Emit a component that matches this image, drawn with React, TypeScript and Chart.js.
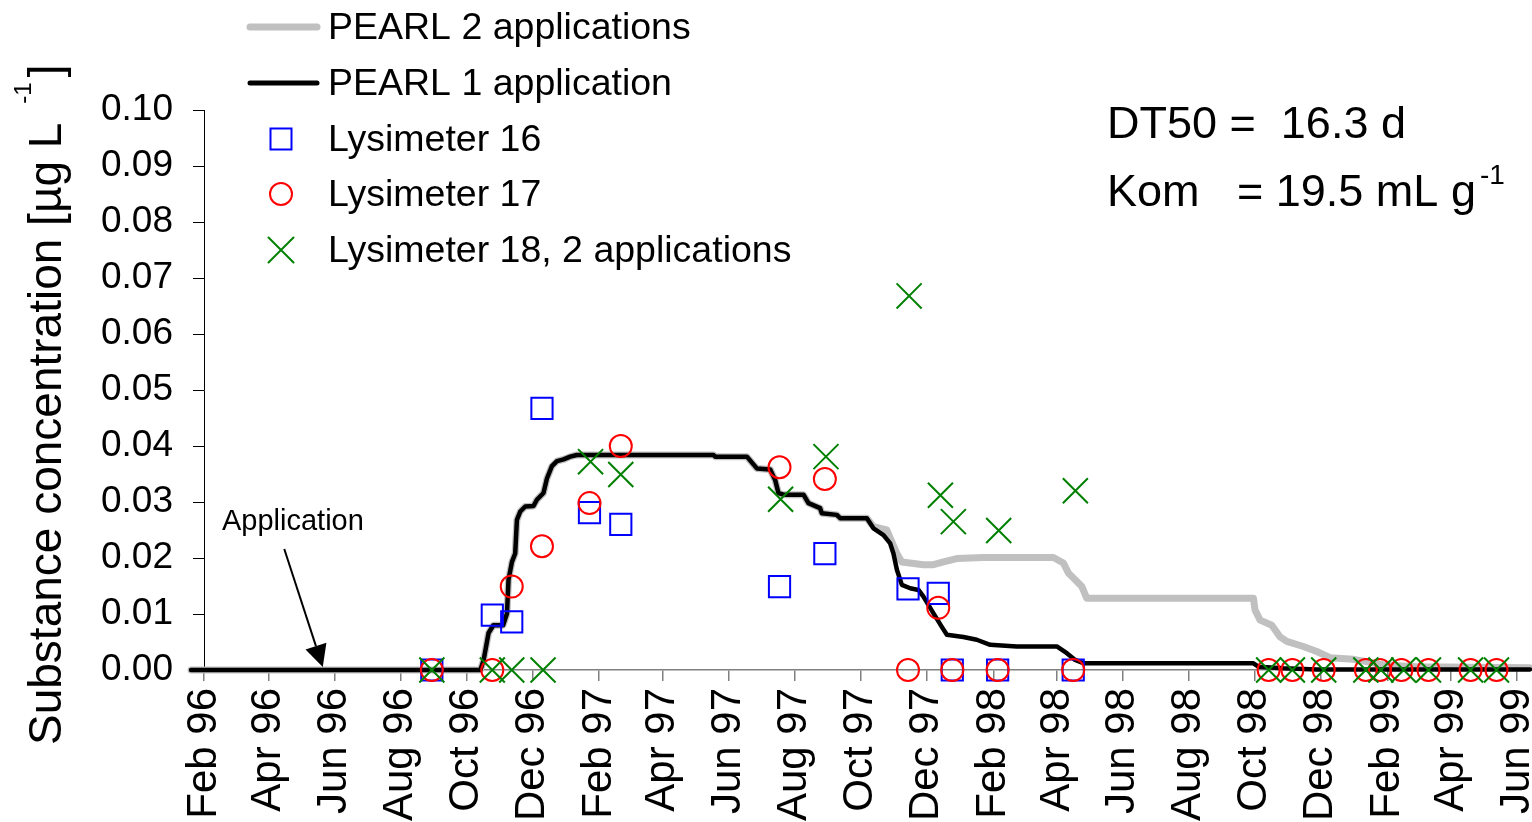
import React, { useEffect, useRef } from "react";
import { Chart, registerables } from "chart.js";

Chart.register(...registerables);

const FONT = '"Liberation Sans", Arial, Helvetica, sans-serif';

// x values: days since 1 Feb 1996
const tickDays = [0, 60, 121, 182, 243, 304, 366, 425, 486, 547, 608, 669, 731, 790, 851, 912, 973, 1034, 1096, 1155, 1216];
const tickLabels = [
  "Feb 96", "Apr 96", "Jun 96", "Aug 96", "Oct 96", "Dec 96",
  "Feb 97", "Apr 97", "Jun 97", "Aug 97", "Oct 97", "Dec 97",
  "Feb 98", "Apr 98", "Jun 98", "Aug 98", "Oct 98", "Dec 98",
  "Feb 99", "Apr 99", "Jun 99",
];
const yTicks = [0, 0.01, 0.02, 0.03, 0.04, 0.05, 0.06, 0.07, 0.08, 0.09, 0.1];

// PEARL 1 application (simulated)
const pearl1Days = [
  -12, 256, 259, 263.5, 268, 277, 280.6, 282, 285.2, 288.2, 289.8, 292.9, 297.5, 305.2, 308.3, 314.4,
  317.6, 322.2, 326.9, 333, 339.2, 345.4, 471.9, 473.4, 502.8, 512, 524.4, 529, 532, 536.7, 555.2,
  559.8, 570.6, 572.2, 586.1, 589.2, 613.9, 620, 629.3, 635.5, 638.5, 641.7, 646.3, 654, 661.7,
  666.3, 675.6, 683.3, 688, 703.3, 715.7, 728.1, 752.8, 789.8, 799.1, 806.8, 814.4, 971.9, 976.5,
  999.6, 1030.6, 1228,
];
const pearl1Values = [
  0, 0, 0.0018, 0.0066, 0.008, 0.008, 0.0101, 0.0161, 0.0193, 0.0208, 0.0268, 0.0283, 0.0292, 0.0293, 0.0304, 0.0316,
  0.0342, 0.0364, 0.0373, 0.0376, 0.0381, 0.0384, 0.0384, 0.0381, 0.0381, 0.036, 0.0358, 0.0339, 0.0316, 0.0313, 0.0313,
  0.0298, 0.0289, 0.028, 0.0277, 0.0271, 0.0271, 0.0253, 0.0241, 0.0226, 0.0208, 0.0179, 0.0152, 0.0146, 0.0143,
  0.0131, 0.0101, 0.0077, 0.0063, 0.0059, 0.0054, 0.0045, 0.0042, 0.0042, 0.003, 0.0018, 0.0012, 0.0012, 0.0006,
  0.0003, 0.0001, 0.0001,
];

// PEARL 2 applications: identical to PEARL 1 until this day, then diverges
const pearl2SplitDay = 614;
const pearl2TailDays = [
  620, 632.4, 641.7, 646.3, 666.3, 675.6, 684.8, 697.2, 721.9, 786.7, 795.9, 800.6, 806.8, 813, 817.6,
  971.9, 973.4, 978.1, 988.9, 996.6, 1002.8, 1018.1, 1030.6, 1042.9, 1064.4, 1076.9, 1092.2, 1123.1, 1228,
];
const pearl2TailValues = [
  0.0256, 0.025, 0.0208, 0.0193, 0.0188, 0.0188, 0.0193, 0.0199, 0.0201, 0.0201, 0.0191, 0.0173, 0.0161, 0.0149, 0.0128,
  0.0128, 0.0107, 0.0089, 0.008, 0.0059, 0.0051, 0.0042, 0.0033, 0.0022, 0.0019, 0.0015, 0.0009, 0.0006, 0.0004,
];

// Lysimeter measurements
const lys16Days = [211, 267, 285, 313, 357, 386, 533, 575, 652, 680, 693, 735, 805];
const lys16Values = [0, 0.0098, 0.0086, 0.0467, 0.0281, 0.026, 0.0149, 0.0208, 0.0145, 0.0137, 0, 0, 0];

const lys17Days = [211, 267, 285, 313, 357, 386, 533, 575, 652, 680, 693, 735, 805, 986, 1008, 1037, 1076, 1089, 1109, 1134, 1173, 1197];
const lys17Values = [0, 0, 0.0149, 0.0221, 0.0298, 0.04, 0.0362, 0.0341, 0, 0.0111, 0, 0, 0, 0, 0, 0, 0, 0, 0, 0, 0, 0];

const lys18Days = [211, 267, 285, 314, 358, 386, 534, 576, 653, 682, 694, 736, 807, 986, 1008, 1037, 1076, 1090, 1111, 1134, 1173, 1197];
const lys18Values = [0, 0, 0, 0, 0.0372, 0.0349, 0.0305, 0.0381, 0.0668, 0.0312, 0.0265, 0.0249, 0.032, 0, 0, 0, 0, 0, 0, 0, 0, 0];

const applicationDay = 110;

const seriesNames = [
  "PEARL 2 applications",
  "PEARL 1 application",
  "Lysimeter 16",
  "Lysimeter 17",
  "Lysimeter 18, 2 applications",
];

const GRAY = "#c0c0c0";
const BLUE = "#0000ff";
const RED = "#ff0000";
const GREEN = "#008000";

const toPoints = (xs: number[], ys: number[]) => xs.map((x, i) => ({ x, y: ys[i] }));

function drawMarker(ctx: CanvasRenderingContext2D, kind: string, cx: number, cy: number) {
  ctx.save();
  ctx.lineWidth = 2;
  if (kind === "square") {
    ctx.strokeStyle = BLUE;
    ctx.strokeRect(cx - 10.5, cy - 10.5, 21, 21);
  } else if (kind === "circle") {
    ctx.strokeStyle = RED;
    ctx.beginPath();
    ctx.arc(cx, cy, 11, 0, Math.PI * 2);
    ctx.stroke();
  } else {
    ctx.strokeStyle = GREEN;
    const h = 12.5;
    ctx.beginPath();
    ctx.moveTo(cx - h, cy - h);
    ctx.lineTo(cx + h, cy + h);
    ctx.moveTo(cx + h, cy - h);
    ctx.lineTo(cx - h, cy + h);
    ctx.stroke();
  }
  ctx.restore();
}

const overlayPlugin = {
  id: "overlay",
  afterDraw(chart: any) {
    const ctx: CanvasRenderingContext2D = chart.ctx;
    const xs = chart.scales.x;
    const ys = chart.scales.y;
    ctx.save();
    ctx.fillStyle = "#000";
    ctx.textAlign = "left";

    // Y axis title with superscript
    ctx.save();
    ctx.translate(61, 745);
    ctx.rotate(-Math.PI / 2);
    ctx.textBaseline = "alphabetic";
    ctx.font = `46px ${FONT}`;
    const main = "Substance concentration [µg L";
    ctx.fillText(main, 0, 0);
    let w = ctx.measureText(main).width + 19;
    ctx.font = `24px ${FONT}`;
    ctx.fillText("-1", w, -30);
    w += ctx.measureText("-1").width + 5;
    ctx.font = `46px ${FONT}`;
    ctx.fillText("]", w, 0);
    ctx.restore();

    // Legend
    const rows = [27, 83, 139, 194, 250];
    ctx.lineCap = "round";
    ctx.strokeStyle = GRAY;
    ctx.lineWidth = 7;
    ctx.beginPath();
    ctx.moveTo(250, rows[0]);
    ctx.lineTo(317, rows[0]);
    ctx.stroke();
    ctx.strokeStyle = "#000";
    ctx.lineWidth = 5;
    ctx.beginPath();
    ctx.moveTo(250, rows[1]);
    ctx.lineTo(317, rows[1]);
    ctx.stroke();
    drawMarker(ctx, "square", 281, rows[2]);
    drawMarker(ctx, "circle", 281, rows[3]);
    drawMarker(ctx, "cross", 281, rows[4]);
    ctx.font = `37.5px ${FONT}`;
    ctx.textBaseline = "middle";
    seriesNames.forEach((n, i) => ctx.fillText(n, 328, rows[i] + 2));

    // Parameter text
    ctx.textBaseline = "alphabetic";
    ctx.font = `45px ${FONT}`;
    ctx.fillText("DT50 =  16.3 d", 1107, 138);
    ctx.fillText("Kom", 1107, 206);
    const kom = "= 19.5 mL g";
    ctx.fillText(kom, 1237, 206);
    const kw = ctx.measureText(kom).width;
    ctx.font = `28px ${FONT}`;
    ctx.fillText("-1", 1237 + kw + 4, 184);

    // Application annotation
    const tipX = xs.getPixelForValue(applicationDay);
    const tipY = ys.getPixelForValue(0) - 3;
    const sx = tipX - 38.5;
    const sy = tipY - 118;
    ctx.font = `29px ${FONT}`;
    ctx.fillText("Application", 222, 530);
    const dx = tipX - sx;
    const dy = tipY - sy;
    const len = Math.hypot(dx, dy);
    const ux = dx / len;
    const uy = dy / len;
    const hl = 22;
    const hw = 11;
    const bx = tipX - ux * hl;
    const by = tipY - uy * hl;
    ctx.strokeStyle = "#000";
    ctx.lineWidth = 2;
    ctx.lineCap = "butt";
    ctx.beginPath();
    ctx.moveTo(sx, sy);
    ctx.lineTo(bx, by);
    ctx.stroke();
    ctx.beginPath();
    ctx.moveTo(tipX, tipY);
    ctx.lineTo(bx - uy * hw, by + ux * hw);
    ctx.lineTo(bx + uy * hw, by - ux * hw);
    ctx.closePath();
    ctx.fill();

    ctx.restore();
  },
};

export default function App() {
  const canvasRef = useRef<HTMLCanvasElement | null>(null);

  useEffect(() => {
    if (!canvasRef.current) return;
    Chart.defaults.font.family = FONT;
    Chart.defaults.color = "#000";

    const pearl1 = toPoints(pearl1Days, pearl1Values);
    const pearl2 = pearl1
      .filter((p) => p.x <= pearl2SplitDay)
      .concat(toPoints(pearl2TailDays, pearl2TailValues));

    const chart = new Chart(canvasRef.current, {
      type: "scatter",
      data: {
        datasets: [
          {
            label: seriesNames[4],
            data: toPoints(lys18Days, lys18Values),
            pointStyle: "crossRot",
            pointRadius: 17.7,
            pointBorderWidth: 2,
            borderColor: GREEN,
            backgroundColor: "transparent",
            clip: false,
          },
          {
            label: seriesNames[3],
            data: toPoints(lys17Days, lys17Values),
            pointStyle: "circle",
            pointRadius: 11,
            pointBorderWidth: 2,
            borderColor: RED,
            backgroundColor: "transparent",
            clip: false,
          },
          {
            label: seriesNames[2],
            data: toPoints(lys16Days, lys16Values),
            pointStyle: "rect",
            pointRadius: 15,
            pointBorderWidth: 2,
            borderColor: BLUE,
            backgroundColor: "transparent",
            clip: false,
          },
          {
            label: seriesNames[1],
            data: pearl1,
            showLine: true,
            pointRadius: 0,
            borderColor: "#000",
            borderWidth: 4.5,
            borderJoinStyle: "round",
            borderCapStyle: "round",
            tension: 0,
            clip: false,
          },
          {
            label: seriesNames[0],
            data: pearl2,
            showLine: true,
            pointRadius: 0,
            borderColor: GRAY,
            borderWidth: 7,
            borderJoinStyle: "round",
            borderCapStyle: "round",
            tension: 0,
            clip: false,
          },
        ],
      } as any,
      options: {
        animation: false,
        responsive: true,
        maintainAspectRatio: false,
        events: [],
        layout: { autoPadding: false, padding: { top: 110, right: 15, left: 0, bottom: 0 } },
        plugins: {
          legend: { display: false },
          tooltip: { enabled: false },
        },
        scales: {
          x: {
            type: "linear",
            min: 0,
            max: 1216,
            afterBuildTicks: (scale: any) => {
              scale.ticks = tickDays.map((v) => ({ value: v }));
            },
            afterFit: (scale: any) => {
              scale.height = 152;
              scale.paddingLeft = 0;
              scale.paddingRight = 0;
            },
            ticks: {
              autoSkip: false,
              minRotation: 90,
              maxRotation: 90,
              padding: 7,
              color: "#000",
              font: { size: 42, family: FONT },
              callback: (v: any) => {
                const i = tickDays.indexOf(Number(v));
                return i >= 0 ? tickLabels[i] : "";
              },
            },
            grid: {
              drawOnChartArea: false,
              drawTicks: true,
              tickLength: 11,
              color: "#808080",
              lineWidth: 1.5,
            },
            border: { color: "#808080", width: 1.5 },
          },
          y: {
            type: "linear",
            min: 0,
            max: 0.1,
            afterBuildTicks: (scale: any) => {
              scale.ticks = yTicks.map((v) => ({ value: v }));
            },
            afterFit: (scale: any) => {
              scale.width = 204;
              scale.paddingTop = 0;
              scale.paddingBottom = 0;
            },
            ticks: {
              padding: 20,
              color: "#000",
              font: { size: 37, family: FONT },
              callback: (v: any) => Number(v).toFixed(2),
            },
            grid: {
              drawOnChartArea: false,
              drawTicks: true,
              tickLength: 11,
              color: "#000",
            },
            border: { color: "#000", width: 1 },
          },
        },
      } as any,
      plugins: [overlayPlugin],
    });

    return () => chart.destroy();
  }, []);

  return (
    <div style={{ position: "absolute", left: 0, top: 0, width: 1532, height: 822, background: "#fff" }}>
      <canvas ref={canvasRef} />
    </div>
  );
}
